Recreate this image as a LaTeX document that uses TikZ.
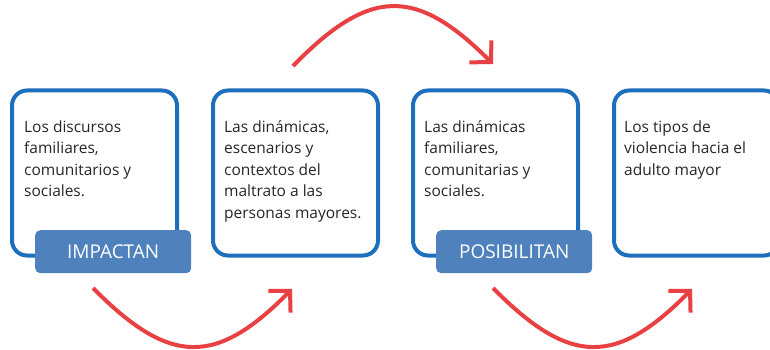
\documentclass[tikz,border=0pt]{standalone}
\usepackage{fontspec}
\setmainfont{Open Sans}
\usetikzlibrary{arrows.meta}
\definecolor{boxblue}{RGB}{30,110,190}
\definecolor{labblue}{RGB}{79,129,189}
\definecolor{arrred}{RGB}{232,64,67}
\begin{document}
\begin{tikzpicture}[x=1pt,y=-1pt,
  card/.style={draw=boxblue, line width=4pt, rounded corners=15pt, minimum width=165pt, minimum height=165pt, anchor=north west, inner sep=0pt},
  body/.style={anchor=base west, align=left, inner sep=0pt, font=\fontsize{15.5}{21.5}\selectfont, text=black!85},
  tag/.style={fill=labblue, rounded corners=5pt, minimum width=156pt, minimum height=43pt, anchor=north west, text=white, font=\fontsize{19}{22}\selectfont, inner sep=0pt},
  flow/.style={draw=arrred, line width=4pt, -{Straight Barb[length=15pt,width=31pt]}}
]
\useasboundingbox (0,0) rectangle (770,350);
\node[card] (c1) at (10,88.5) {};
\node[card] (c2) at (211,88.5) {};
\node[card] (c3) at (411,88.5) {};
\begin{scope}
\clip (0,0) rectangle (770,350);
\node[card] (c4) at (612,88.5) {};
\end{scope}
\node[tag] (g1) at (35,230) {IMPACTAN};
\node[tag] (g3) at (436,230) {POSIBILITAN};
% anchor = baseline of the last line
\node[body] (t1) at (24,196.5) {Los discursos\\familiares,\\comunitarios y\\sociales.};
\node[body] (t2) at (224,218) {Las dinámicas,\\escenarios y\\contextos del\\maltrato a las\\personas mayores.};
\node[body] (t3) at (424,196.5) {Las dinámicas\\familiares,\\comunitarias y\\sociales.};
\node[body] (t4) at (624,175) {Los tipos de\\violencia hacia el\\adulto mayor};
\coordinate (a1s) at (293,66);
\coordinate (a1e) at (493,64);
\coordinate (b1s) at (93,288);
\coordinate (b1e) at (292,289);
\coordinate (b2s) at (493,288);
\coordinate (b2e) at (692,289);
\draw[flow] (a1s) .. controls (370,-13) and (416,-13) .. (a1e);
\draw[flow] (b1s) .. controls (170,366) and (216,366) .. (b1e);
\draw[flow] (b2s) .. controls (570,366) and (616,366) .. (b2e);
\end{tikzpicture}
\end{document}
